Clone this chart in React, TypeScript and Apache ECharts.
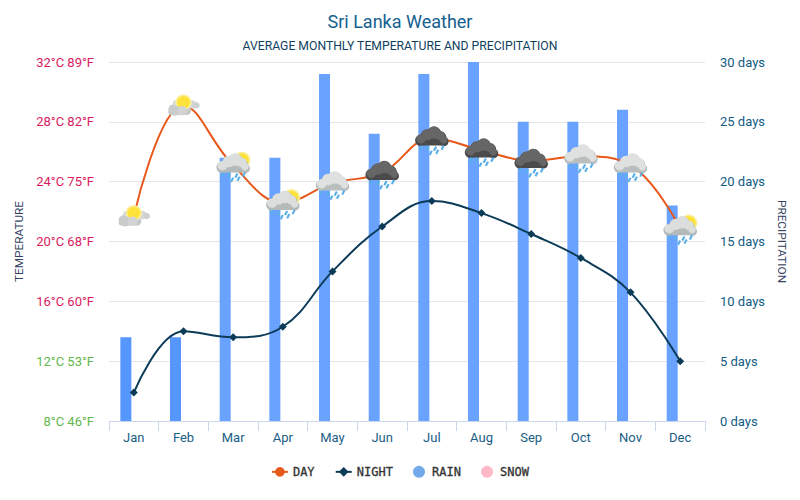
import React, { useEffect, useRef } from "react";
import * as echarts from "echarts";

const months = ["Jan","Feb","Mar","Apr","May","Jun","Jul","Aug","Sep","Oct","Nov","Dec"];
const dayTemp = [21.7,29.1,25.1,22.6,23.9,24.6,26.9,26.1,25.4,25.7,25.1,20.9];
const nightTemp = [9.9,14.0,13.6,14.3,18.0,21.0,22.7,21.9,20.5,18.9,16.6,12.0];
const rainDays = [7,7,22,22,29,24,29,30,25,25,26,18];
const snowDays = [0,0,0,0,0,0,0,0,0,0,0,0];
// 0 sun behind flat cloud, 1 sun + cloud + light rain, 2 cloud + rain, 3 dark storm cloud
const iconKinds = [0,0,1,1,2,3,3,3,3,2,2,1];
const tempTicks: Record<number,string> = {8:"8°C 46°F",12:"12°C 53°F",16:"16°C 60°F",20:"20°C 68°F",24:"24°C 75°F",28:"28°C 82°F",32:"32°C 89°F"};

const c = (x:number,y:number,r:number,fill:string) => ({type:"circle",shape:{cx:x,cy:y,r},style:{fill},silent:true});

function cloud(x:number,y:number,top:string,bottom:string){
  const blobs=[[-10,1,5.5],[-4,-3,6.5],[2,-5,7],[8,-2,5.5],[11,2,4.5]];
  const out:any[]=[];
  blobs.forEach(b=>out.push(c(x+b[0],y+b[1]+1,b[2],bottom)));
  out.push({type:"rect",shape:{x:x-14,y:y,width:29,height:7,r:3},style:{fill:bottom},silent:true});
  blobs.forEach(b=>out.push(c(x+b[0],y+b[1]-0.5,b[2]-1,top)));
  return out;
}
function flatCloud(x:number,y:number){
  return [
    c(x-9,y+4,5,"#c4c8c8"),c(x-3,y+3,5.5,"#cfd2d2"),c(x+3,y+5,4,"#c8cbcb"),
    {type:"rect",shape:{x:x-14,y:y+4,width:20,height:5,r:2.5},style:{fill:"#c4c8c8"},silent:true},
    c(x+8,y-1,4,"#d4d6d6"),c(x+12,y,3,"#cdd0d0"),
    c(x-7,y-2,3,"#d8dada"),
  ];
}
function drops(x:number,y:number,color:string){
  const pts=[[-10,9],[-4,10],[3,10],[10,9],[-1,14],[5,13]];
  return pts.map(p=>({type:"line",shape:{x1:x+p[0]+1,y1:y+p[1]-2,x2:x+p[0]-1,y2:y+p[1]+2},style:{stroke:color,lineWidth:2},silent:true}));
}
function sun(x:number,y:number,r:number){
  return [c(x,y,r+1.5,"#fbef9a"),c(x,y,r,"#fde23c")];
}

function renderIcon(_:any, api:any){
  const p=api.coord([api.value(0),api.value(1)]);
  const k=api.value(2);
  let children:any[]=[];
  if(k===0){
    children=[...flatCloud(0,0),...sun(0,-3,6),c(-8,5,5,"#c9cccc"),c(-1,5,4.5,"#d2d4d4")];
  } else if(k===1){
    children=[...sun(8,-5,6.5),...cloud(0,0,"#dcdede","#b4b9b9"),...drops(0,0,"#5cb0e8")];
  } else if(k===2){
    children=[...cloud(0,0,"#dfe1e1","#b9bebe"),...drops(0,0,"#5cb0e8")];
  } else {
    children=[...cloud(0,0,"#666666","#4a4a4a"),...drops(0,0,"#58aee6")];
  }
  return {type:"group",x:p[0],y:p[1],scaleX:1.08,scaleY:1.04,children};
}

export default function App(){
  const ref=useRef<HTMLDivElement>(null);
  useEffect(()=>{
    const chart=echarts.init(ref.current!,null,{renderer:"svg"});
    const font="Roboto";
    chart.setOption({
      animation:false,
      backgroundColor:"#ffffff",
      title:[
        {text:"Sri Lanka Weather",left:"center",top:7,textStyle:{fontFamily:font,fontSize:18,fontWeight:"normal",color:"#14608f"}},
        {text:"AVERAGE MONTHLY TEMPERATURE AND PRECIPITATION",left:"center",top:35,textStyle:{fontFamily:font,fontSize:12.2,fontWeight:"normal",color:"#0f3f63"}},
      ],
      grid:{left:109,right:95,top:62,bottom:79},
      legend:{
        bottom:17,left:"center",itemWidth:16,itemHeight:12,itemGap:20,
        textStyle:{fontFamily:"DejaVu Sans Mono",fontSize:12,color:"#333333",textBorderColor:"#333333",textBorderWidth:0.3},
        data:[
          {name:"DAY"},
          {name:"NIGHT"},
          {name:"RAIN",icon:"circle",itemStyle:{color:"#72a9ea"}},
          {name:"SNOW",icon:"circle",itemStyle:{color:"#ffb8c8"}},
        ],
      },
      xAxis:{
        type:"category",data:months,boundaryGap:true,
        axisLine:{lineStyle:{color:"#ccd6eb"}},
        axisTick:{show:true,alignWithLabel:false,length:10,lineStyle:{color:"#ccd6eb"}},
        axisLabel:{fontFamily:font,fontSize:13,color:"#1a5d85",margin:10},
        splitLine:{show:false},
      },
      yAxis:[
        {
          type:"value",min:8,max:32,interval:4,position:"left",
          name:"TEMPERATURE",nameLocation:"middle",nameRotate:90,nameGap:77,
          nameTextStyle:{fontFamily:font,fontSize:11.8,color:"#34425f"},
          axisLine:{show:false},axisTick:{show:false},
          splitLine:{lineStyle:{color:"#e6e6e6"}},
          axisLabel:{
            fontFamily:font,fontSize:13,margin:15,
            formatter:(v:number)=>tempTicks[v]??"",
            color:(v:any)=>(Number(v)<=12?"#62b84e":"#d81b60"),
          },
        },
        {
          type:"value",min:0,max:30,interval:5,position:"right",
          name:"PRECIPITATION",nameLocation:"middle",nameRotate:-90,nameGap:64,
          nameTextStyle:{fontFamily:font,fontSize:11.8,color:"#34425f"},
          axisLine:{show:false},axisTick:{show:false},splitLine:{show:false},
          axisLabel:{fontFamily:font,fontSize:13,margin:15,color:"#125c85",formatter:"{value} days"},
        },
      ],
      series:[
        {
          name:"RAIN",type:"bar",yAxisIndex:1,barWidth:11,barGap:"45%",z:1,
          itemStyle:{color:"#69a3ff"},
          data:rainDays.map((v,i)=>i<2?{value:v,itemStyle:{color:"#5596ff"}}:v),
        },
        {name:"SNOW",type:"bar",yAxisIndex:1,barWidth:11,barGap:"45%",z:1,itemStyle:{color:"#ffb8c8"},data:snowDays},
        {
          name:"DAY",type:"line",smooth:0.4,yAxisIndex:0,z:3,data:dayTemp,
          symbol:"circle",symbolSize:7,
          lineStyle:{color:"#e8581a",width:2},itemStyle:{color:"#e8581a"},
        },
        {
          name:"NIGHT",type:"line",smooth:0.4,yAxisIndex:0,z:3,data:nightTemp,
          symbol:"diamond",symbolSize:8,
          lineStyle:{color:"#0c3b57",width:2},itemStyle:{color:"#0c3b57"},
        },
        {
          type:"custom",yAxisIndex:0,z:5,silent:true,
          renderItem:renderIcon,encode:{x:0,y:1},
          data:dayTemp.map((v,i)=>[i,v,iconKinds[i]]),
        },
      ],
    });
    return ()=>chart.dispose();
  },[]);
  return <div ref={ref} style={{position:"absolute",left:0,top:0,width:800,height:500}}/>;
}
